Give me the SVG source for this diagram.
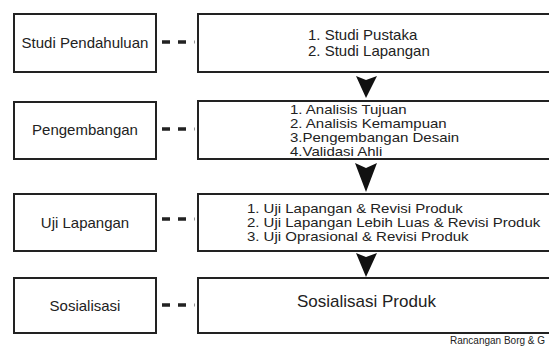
<svg xmlns="http://www.w3.org/2000/svg" width="549" height="349" viewBox="0 0 549 349">
<style>
.box{fill:#fff;stroke:#222;stroke-width:2}
.t{font-family:"Liberation Sans",Arial,sans-serif;fill:#222}
.lbl{font-size:15px;text-anchor:middle}
.item{font-size:15px}
.sq{font-size:12.5px}
.dash{stroke:#222;stroke-width:3.5;stroke-dasharray:8 8}
.tick{stroke:#999;stroke-width:1}
.arrow{fill:#111}
</style>
<rect width="549" height="349" fill="#fff"/>
<g id="left-studi-pendahuluan">
<rect class="box" x="14" y="14" width="142" height="58"/>
<text class="t lbl" x="85" y="47.5">Studi Pendahuluan</text>
</g>
<g id="left-pengembangan">
<rect class="box" x="14" y="102" width="142" height="57"/>
<text class="t lbl" x="85" y="135">Pengembangan</text>
</g>
<g id="left-uji-lapangan">
<rect class="box" x="14" y="194" width="142" height="57"/>
<text class="t lbl" x="85" y="228">Uji Lapangan</text>
</g>
<g id="left-sosialisasi">
<rect class="box" x="14" y="278" width="142" height="55"/>
<text class="t lbl" x="85" y="311">Sosialisasi</text>
</g>
<g id="right-studi">
<rect class="box" x="198" y="14" width="370" height="58"/>
<text class="t item" x="308" y="39.5" font-size="14.5">1. Studi Pustaka</text>
<text class="t item" x="308" y="55.5" font-size="14.5">2. Studi Lapangan</text>
</g>
<g id="right-pengembangan">
<rect class="box" x="198" y="101" width="370" height="58"/>
<g transform="scale(1.2 1)">
<text class="t sq" x="241.7" y="114">1. Analisis Tujuan</text>
<text class="t sq" x="241.7" y="128">2. Analisis Kemampuan</text>
<text class="t sq" x="241.7" y="142">3.Pengembangan Desain</text>
<text class="t sq" x="241.7" y="156">4.Validasi Ahli</text>
</g>
</g>
<g id="right-uji">
<rect class="box" x="198" y="194" width="370" height="57"/>
<g transform="scale(1.2 1)">
<text class="t sq" x="205.8" y="213">1. Uji Lapangan &amp; Revisi Produk</text>
<text class="t sq" x="205.8" y="227">2. Uji Lapangan Lebih Luas &amp; Revisi Produk</text>
<text class="t sq" x="205.8" y="241">3. Uji Oprasional &amp; Revisi Produk</text>
</g>
</g>
<g id="right-sosialisasi">
<rect class="box" x="198" y="278" width="370" height="55"/>
<text class="t" x="297" y="307" font-size="17">Sosialisasi Produk</text>
</g>
<g id="connectors">
<line class="dash" x1="162" y1="42" x2="194" y2="42"/>
<line class="dash" x1="162" y1="129" x2="194" y2="129"/>
<line class="dash" x1="162" y1="219" x2="194" y2="219"/>
<line class="dash" x1="162" y1="305" x2="194" y2="305"/>
<line class="tick" x1="194.5" y1="40.5" x2="194.5" y2="43.5"/>
<line class="tick" x1="194.5" y1="127.5" x2="194.5" y2="130.5"/>
<line class="tick" x1="194.5" y1="217.5" x2="194.5" y2="220.5"/>
<line class="tick" x1="194.5" y1="303.5" x2="194.5" y2="306.5"/>
<path class="arrow" d="M356,76 L366,80 L377,76 L366,98 Z"/>
<path class="arrow" d="M355,163 L366,168 L377,163 L366,192 Z"/>
<path class="arrow" d="M356,253 L366,257 L377,253 L366,277 Z"/>
</g>
<text class="t" x="450" y="344" font-size="10">Rancangan Borg &amp; G</text>
</svg>
